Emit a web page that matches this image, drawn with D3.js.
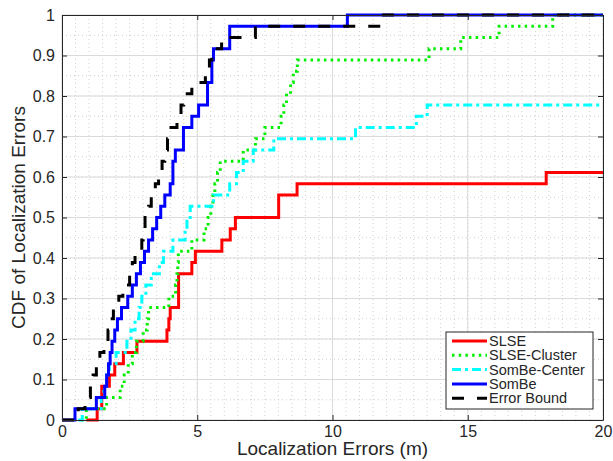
<!DOCTYPE html>
<html>
<head>
<meta charset="utf-8">
<script src="https://cdn.jsdelivr.net/npm/d3@7"></script>
<style>
  body { margin: 0; background: #fff; }
  text { font-family: "Liberation Sans", Arial, Helvetica, sans-serif; fill: #262626; }
</style>
</head>
<body>
<svg id="chart" width="613" height="461"></svg>
<script>

// number of test points behind each empirical CDF
var N = 36;

// step positions (m) and cumulative counts
var slseX = [0.9, 1.3, 1.47, 1.75, 1.95, 2.27, 2.77, 3.88, 3.95, 4.0, 4.31, 4.8, 4.93, 5.91, 6.22, 6.41, 8.01, 8.69, 17.9];
var slseK = [0, 1, 3, 4, 5, 6, 7, 8, 9, 10, 13, 14, 15, 16, 17, 18, 20, 21, 22];

var clusterX = [0.7, 0.9, 1.65, 2.15, 2.3, 2.45, 2.6, 2.75, 3.0, 3.15, 3.2, 3.95, 4.2, 4.25, 4.28, 4.3, 4.8, 5.25, 5.4, 5.5,
                5.58, 5.65, 5.75, 5.85, 6.7, 7.15, 7.5, 8.1, 8.2, 8.3, 8.45, 8.55, 8.7, 13.57, 14.74, 16.16, 18.14];
var clusterK = [0, 1, 2, 3, 4, 5, 6, 7, 8, 9, 10, 11, 12, 13, 14, 15, 16, 17, 18, 19,
                20, 21, 22, 23, 24, 25, 26, 27, 28, 29, 30, 31, 32, 33, 34, 35, 36];

var centerX = [0.6, 0.75, 1.45, 1.55, 1.65, 1.75, 2.0, 2.4, 2.55, 2.7, 2.85, 2.95, 3.1, 3.3, 3.6, 3.75, 4.1, 4.55, 4.62, 4.74,
               5.6, 6.2, 6.45, 6.7, 7.07, 7.83, 10.85, 13.1, 13.5];
var centerK = [0, 1, 2, 3, 4, 5, 6, 7, 8, 9, 10, 11, 12, 13, 14, 15, 16, 17, 18, 19,
               20, 21, 22, 23, 24, 25, 26, 27, 28];

var sombeX = [0, 0.48, 1.27, 1.58, 1.65, 1.72, 1.78, 1.85, 1.95, 2.05, 2.2, 2.43, 2.6, 2.75, 2.9, 3.05, 3.2, 3.35, 3.5, 3.65,
              3.8, 4.0, 4.1, 4.19, 4.49, 4.8, 5.05, 5.38, 5.54, 5.6, 6.2, 10.55];
var sombeK = [0, 1, 2, 3, 4, 5, 6, 7, 8, 9, 10, 11, 12, 13, 14, 15, 16, 17, 18, 19,
              20, 21, 23, 24, 26, 27, 28, 30, 32, 33, 35, 36];

var boundX = [0, 0.6, 0.85, 1.05, 1.15, 1.27, 1.4, 1.55, 1.7, 1.8, 1.9, 2.1, 2.25, 2.5, 2.6, 2.7, 2.95, 3.0, 3.07, 3.2,
              3.3, 3.45, 3.57, 3.7, 3.8, 3.9, 3.95, 4.25, 4.4, 4.5, 4.8, 5.3, 5.45, 5.54, 5.9, 7.15, 11.8];
var boundK = [0, 1, 2, 3, 4, 5, 6, 7, 8, 9, 10, 11, 12, 13, 14, 15, 16, 17, 18, 19,
              20, 21, 22, 23, 24, 25, 26, 27, 28, 29, 30, 31, 32, 33, 34, 35, 36];

var seriesNames = ["SLSE", "SLSE-Cluster", "SomBe-Center", "SomBe", "Error Bound"];
var xTicks = [0, 5, 10, 15, 20];
var yTicks = [0, 0.1, 0.2, 0.3, 0.4, 0.5, 0.6, 0.7, 0.8, 0.9, 1];

var styles = {
  "SLSE":         { color: "#ff0000", dash: null },
  "SLSE-Cluster": { color: "#00ee00", dash: "2.5,4.2" },
  "SomBe-Center": { color: "#00ffff", dash: "9,4,3,4" },
  "SomBe":        { color: "#0000ff", dash: null },
  "Error Bound":  { color: "#000000", dash: "12,13" }
};

var series = [
  { name: seriesNames[0], x: slseX, k: slseK },
  { name: seriesNames[1], x: clusterX, k: clusterK },
  { name: seriesNames[2], x: centerX, k: centerK },
  { name: seriesNames[3], x: sombeX, k: sombeK },
  { name: seriesNames[4], x: boundX, k: boundK }
];

var margin = { top: 15, right: 10, bottom: 41, left: 62 },
    width = 613 - margin.left - margin.right,
    height = 461 - margin.top - margin.bottom;

var svg = d3.select("#chart")
  .append("g")
  .attr("transform", "translate(" + margin.left + "," + margin.top + ")");

var xScale = d3.scaleLinear().domain([0, 20]).range([0, width]),
    yScale = d3.scaleLinear().domain([0, 1]).range([height, 0]);

// minor dotted grid
svg.append("g").selectAll("line").data(xScale.ticks(40)).enter().append("line")
  .attr("x1", function (d) { return xScale(d); }).attr("x2", function (d) { return xScale(d); })
  .attr("y1", 0).attr("y2", height)
  .attr("stroke", "#c4c4c4").attr("stroke-width", 0.8).attr("stroke-dasharray", "1,3");
svg.append("g").selectAll("line").data(yScale.ticks(20)).enter().append("line")
  .attr("y1", function (d) { return yScale(d); }).attr("y2", function (d) { return yScale(d); })
  .attr("x1", 0).attr("x2", width)
  .attr("stroke", "#c4c4c4").attr("stroke-width", 0.8).attr("stroke-dasharray", "1,3");

// major grid
svg.append("g").selectAll("line").data(xTicks).enter().append("line")
  .attr("x1", function (d) { return xScale(d); }).attr("x2", function (d) { return xScale(d); })
  .attr("y1", 0).attr("y2", height)
  .attr("stroke", "#dadada").attr("stroke-width", 1);
svg.append("g").selectAll("line").data(yTicks).enter().append("line")
  .attr("y1", function (d) { return yScale(d); }).attr("y2", function (d) { return yScale(d); })
  .attr("x1", 0).attr("x2", width)
  .attr("stroke", "#dadada").attr("stroke-width", 1);

svg.append("clipPath").attr("id", "clip")
  .append("rect").attr("x", -2).attr("y", -2).attr("width", width + 4).attr("height", height + 4);

var line = d3.line()
  .x(function (d) { return xScale(d[0]); })
  .y(function (d) { return yScale(d[1]); })
  .curve(d3.curveStepAfter);

series.forEach(function (s) {
  var pts = s.x.map(function (v, i) { return [v, s.k[i] / N]; });
  pts.push([20, s.k[s.k.length - 1] / N]);
  var st = styles[s.name];
  svg.append("path")
    .datum(pts)
    .attr("clip-path", "url(#clip)")
    .attr("fill", "none")
    .attr("stroke", st.color)
    .attr("stroke-width", 3)
    .attr("stroke-dasharray", st.dash)
    .attr("d", line);
});

// axes, ticks pointing inward
function styleAxis(g) {
  g.selectAll(".domain").attr("stroke", "#262626").attr("stroke-width", 1);
  g.selectAll(".tick line").attr("stroke", "#262626");
  g.selectAll("text").attr("font-size", "16px").attr("fill", "#262626")
    .attr("font-family", "'Liberation Sans', Arial, sans-serif");
}

svg.append("g")
  .attr("transform", "translate(0," + height + ")")
  .call(d3.axisBottom(xScale).tickValues(xTicks).tickSizeInner(-5).tickSizeOuter(0).tickPadding(6))
  .call(styleAxis);

svg.append("g")
  .call(d3.axisLeft(yScale).tickValues(yTicks).tickSizeInner(-5).tickSizeOuter(0).tickPadding(7)
    .tickFormat(function (d) { return d3.format("~g")(d); }))
  .call(styleAxis);

svg.append("g")
  .call(d3.axisTop(xScale).tickValues(xTicks).tickSizeInner(-5).tickSizeOuter(0).tickFormat(""))
  .call(styleAxis);

svg.append("g")
  .attr("transform", "translate(" + width + ",0)")
  .call(d3.axisRight(yScale).tickValues(yTicks).tickSizeInner(-5).tickSizeOuter(0).tickFormat(""))
  .call(styleAxis);

// axis titles
svg.append("text")
  .attr("x", width / 2).attr("y", height + 35)
  .attr("text-anchor", "middle")
  .attr("font-size", "19px")
  .text("Localization Errors (m)");

svg.append("text")
  .attr("transform", "translate(" + (25 - margin.left) + "," + (height / 2) + ") rotate(-90)")
  .attr("text-anchor", "middle")
  .attr("font-size", "19px")
  .text("CDF of Localization Errors");

// legend
var legend = d3.select("#chart").append("g").attr("transform", "translate(446,332)");
legend.append("rect")
  .attr("width", 147).attr("height", 77)
  .attr("fill", "#fff").attr("stroke", "#262626").attr("stroke-width", 1);

seriesNames.forEach(function (name, i) {
  var y = 9 + i * 14.3;
  var st = styles[name];
  legend.append("line")
    .attr("x1", 6).attr("x2", 41).attr("y1", y).attr("y2", y)
    .attr("stroke", st.color).attr("stroke-width", 3)
    .attr("stroke-dasharray", st.dash);
  legend.append("text")
    .attr("x", 43).attr("y", y + 5)
    .attr("font-size", "14.5px")
    .text(name);
});

</script>
</body>
</html>
